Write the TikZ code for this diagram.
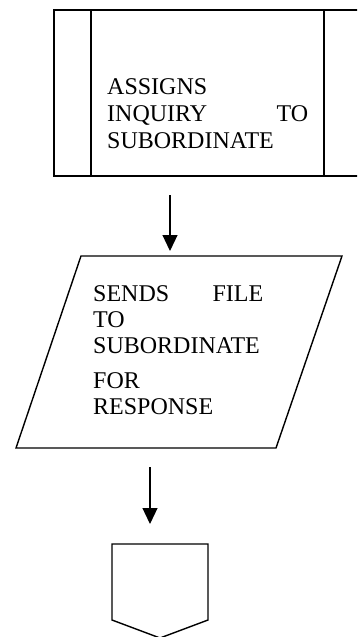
\documentclass[tikz,border=0pt]{standalone}
\usepackage{fontspec}
\setmainfont{Liberation Serif}
\usetikzlibrary{arrows.meta}
\begin{document}
\begin{tikzpicture}[x=1pt,y=-1pt,
  shapeline/.style={line width=1.4pt,line join=miter},
  flowarrow/.style={line width=1.2pt,-{Triangle[width=15pt,length=16pt]}},
  boxtext/.style={inner sep=0pt,anchor=base west,align=left,font=\fontsize{24}{27}\selectfont},
  boxtexttwo/.style={inner sep=0pt,anchor=base west,align=left,font=\fontsize{24}{26}\selectfont}]
\useasboundingbox (0,0) rectangle (357,637);
\clip (0,0) rectangle (357,637);
% predefined process box
\node[draw,shapeline,minimum width=307pt,minimum height=166pt,inner sep=0pt] (assign) at (207.5,93) {};
\draw[shapeline] (91,10) -- (91,176);
\draw[shapeline] (324,10) -- (324,176);
\node[boxtext,text width=201pt] (assigntext) at (107,94) {ASSIGNS\\INQUIRY\hfill TO\\SUBORDINATE};
% parallelogram
\coordinate (pTL) at (81,256);
\coordinate (pTR) at (342,256);
\coordinate (pBR) at (276,448);
\coordinate (pBL) at (16,448);
\draw[shapeline] (pTL) -- (pTR) -- (pBR) -- (pBL) -- cycle;
\node[boxtexttwo,text width=170pt] (sendtext) at (93,301) {SENDS\hfill FILE\\TO\\SUBORDINATE\\[9pt]FOR\\RESPONSE};
% off-page connector
\coordinate (oTL) at (112,544);
\coordinate (oTR) at (208,544);
\coordinate (oR) at (208,620);
\coordinate (oB) at (160,638);
\coordinate (oL) at (112,620);
\draw[shapeline] (oTL) -- (oTR) -- (oR) -- (oB) -- (oL) -- cycle;
% arrows
\coordinate (a1s) at (170,195);
\coordinate (a1e) at (170,251);
\coordinate (a2s) at (150,467);
\coordinate (a2e) at (150,524);
\draw[flowarrow] (a1s) -- (a1e);
\draw[flowarrow] (a2s) -- (a2e);
\end{tikzpicture}
\end{document}
